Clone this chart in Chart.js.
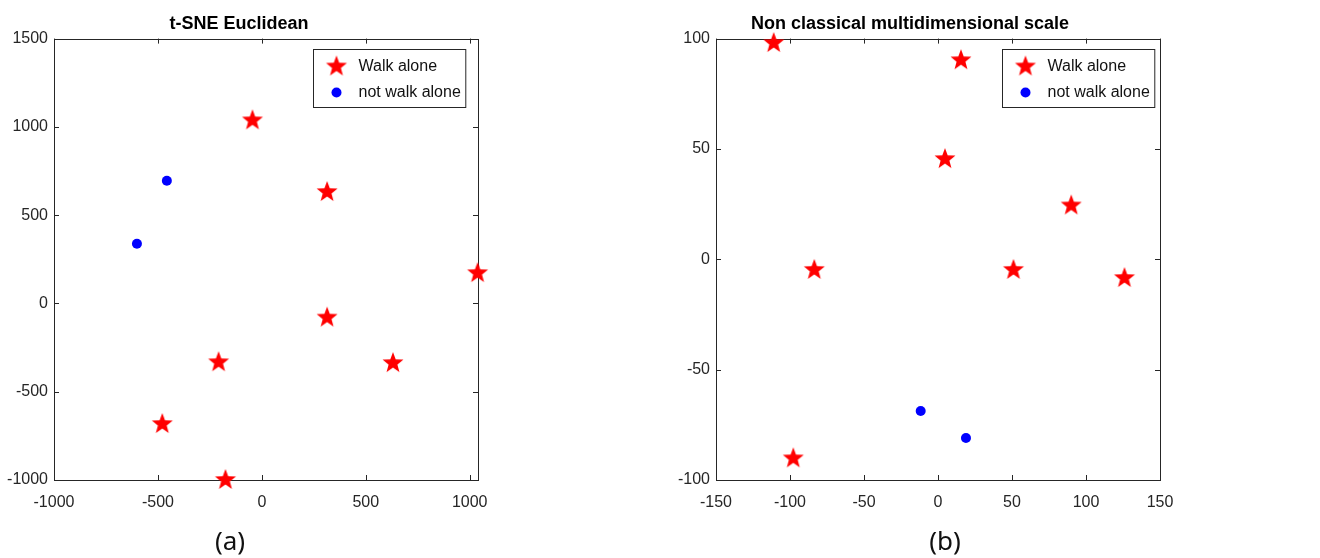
<!DOCTYPE html>
<html>
<head>
<meta charset="utf-8">
<script src="https://cdn.jsdelivr.net/npm/chart.js@4.4.1/dist/chart.umd.min.js"></script>
<style>
  body { margin: 0; background: #fff; width: 1320px; height: 558px; position: relative; overflow: hidden; }
  .box { position: absolute; top: 0; height: 558px; }
  .cap { position: absolute; top: 522px; font: 26px "Noto Sans", "Open Sans", sans-serif; color: #111; transform: translateX(-50%); }
</style>
</head>
<body>
<div class="box" style="left:0;width:520px"><canvas id="chartA"></canvas></div>
<div class="box" style="left:660px;width:660px"><canvas id="chartB"></canvas></div>
<div class="cap" style="left:230px">(a)</div>
<div class="cap" style="left:945px">(b)</div>
<script>
// (a) t-SNE Euclidean
let walkXa = [-45, 314, 1038, 314, -208, 631, -479, -175];
let walkYa = [1037, 631, 172, -80, -333, -338, -683, -1000];
let notXa = [-457, -601];
let notYa = [695, 338];
let xTicksA = [-1000, -500, 0, 500, 1000];
let yTicksA = [-1000, -500, 0, 500, 1000, 1500];

// (b) Non classical multidimensional scale
let walkXb = [-111, 15.5, 4.7, 90, -83.6, 51, 126, -97.8];
let walkYb = [98, 90.2, 45.4, 24.4, -4.8, -4.8, -8.5, -90.2];
let notXb = [-11.7, 18.9];
let notYb = [-68.7, -81];
let xTicksB = [-150, -100, -50, 0, 50, 100, 150];
let yTicksB = [-100, -50, 0, 50, 100];

let legendLabels = ['Walk alone', 'not walk alone'];
let tickFont = { family: '"Liberation Sans", Arial, sans-serif', size: 16 };
let axisColor = '#262626';

// filled pentagram marker like matlab
function makeStar(r, color) {
  let c = document.createElement('canvas');
  c.width = r * 2 + 2; c.height = r * 2 + 2;
  let g = c.getContext('2d');
  g.fillStyle = color;
  g.beginPath();
  for (let i = 0; i < 10; i++) {
    let rad = i % 2 === 0 ? r : r * 0.42;
    let a = -Math.PI / 2 + i * Math.PI / 5;
    let px = r + 1 + rad * Math.cos(a), py = r + 1 + rad * Math.sin(a);
    if (i === 0) g.moveTo(px, py); else g.lineTo(px, py);
  }
  g.closePath();
  g.fill();
  return c;
}
let star = makeStar(11, '#ff0000');

function toPoints(xs, ys) {
  return xs.map((x, i) => ({ x: x, y: ys[i] }));
}

// box around the plot + ticks pointing inward on all sides, legend in the corner
let boxPlugin = {
  id: 'matlabBox',
  beforeDatasetsDraw(chart) {
    let ctx = chart.ctx, a = chart.chartArea;
    let sx = chart.scales.x, sy = chart.scales.y;
    ctx.save();
    ctx.strokeStyle = axisColor;
    ctx.lineWidth = 1;
    ctx.strokeRect(Math.round(a.left) + 0.5, Math.round(a.top) + 0.5, Math.round(a.right - a.left), Math.round(a.bottom - a.top));
    ctx.beginPath();
    sx.ticks.forEach(t => {
      let p = Math.round(sx.getPixelForValue(t.value)) + 0.5;
      ctx.moveTo(p, a.bottom); ctx.lineTo(p, a.bottom - 5);
      ctx.moveTo(p, a.top); ctx.lineTo(p, a.top + 5);
    });
    sy.ticks.forEach(t => {
      let p = Math.round(sy.getPixelForValue(t.value)) + 0.5;
      ctx.moveTo(a.left, p); ctx.lineTo(a.left + 5, p);
      ctx.moveTo(a.right, p); ctx.lineTo(a.right - 5, p);
    });
    ctx.stroke();
    ctx.restore();
  },
  afterDraw(chart, args, opts) {
    let ctx = chart.ctx, a = chart.chartArea;
    ctx.save();
    ctx.font = '16px ' + tickFont.family;
    let tw = Math.max(...legendLabels.map(l => ctx.measureText(l).width));
    let w = 44 + tw + 6, h = 58;
    let x0 = Math.round(a.right - opts.right - w) + 0.5, y0 = Math.round(a.top + 10) + 0.5;
    ctx.fillStyle = '#fff';
    ctx.fillRect(x0, y0, w, h);
    ctx.strokeStyle = axisColor;
    ctx.lineWidth = 1;
    ctx.strokeRect(x0, y0, w, h);
    ctx.drawImage(star, x0 + 23 - star.width / 2, y0 + 17 - star.height / 2);
    ctx.fillStyle = '#0000ff';
    ctx.beginPath();
    ctx.arc(x0 + 23, y0 + 43, 5, 0, Math.PI * 2);
    ctx.fill();
    ctx.fillStyle = '#111';
    ctx.textBaseline = 'middle';
    ctx.fillText(legendLabels[0], x0 + 45, y0 + 17);
    ctx.fillText(legendLabels[1], x0 + 45, y0 + 43);
    ctx.restore();
  }
};

function drawChart(id, title, walk, notWalk, xr, yr, xTicks, yTicks, yWidth, padRight, legRight) {
  return new Chart(document.getElementById(id), {
    type: 'scatter',
    data: {
      datasets: [{
        label: legendLabels[0],
        data: walk,
        pointStyle: star,
        pointRadius: 11,
        clip: false
      }, {
        label: legendLabels[1],
        data: notWalk,
        pointStyle: 'circle',
        pointRadius: 5,
        backgroundColor: '#0000ff',
        borderColor: '#0000ff',
        borderWidth: 0,
        clip: false
      }]
    },
    options: {
      responsive: true,
      maintainAspectRatio: false,
      animation: false,
      layout: { padding: { left: 0, right: padRight, top: 0, bottom: 48 } },
      plugins: {
        legend: { display: false },
        tooltip: { enabled: false },
        title: {
          display: true,
          text: title,
          color: '#000',
          font: { family: '"Liberation Sans", Arial, sans-serif', size: 18, weight: 'bold' },
          padding: { top: 13, bottom: 4 }
        },
        matlabBox: { right: legRight }
      },
      scales: {
        x: {
          type: 'linear',
          min: xr[0], max: xr[1],
          grid: { display: false, drawTicks: false },
          border: { display: false },
          ticks: { color: '#262626', font: tickFont, padding: 13, maxRotation: 0, callback: v => String(v) },
          afterBuildTicks(s) { s.ticks = xTicks.map(v => ({ value: v })); },
          afterFit(s) { s.height = 30; }
        },
        y: {
          type: 'linear',
          min: yr[0], max: yr[1],
          grid: { display: false, drawTicks: false },
          border: { display: false },
          ticks: { color: '#262626', font: tickFont, padding: 6, callback: v => String(v) },
          afterBuildTicks(s) { s.ticks = yTicks.map(v => ({ value: v })); },
          afterFit(s) { s.width = yWidth; }
        }
      }
    },
    plugins: [boxPlugin]
  });
}

drawChart('chartA', 't-SNE Euclidean', toPoints(walkXa, walkYa), toPoints(notXa, notYa),
  [-1000, 1040], [-1000, 1500], xTicksA, yTicksA, 54, 42, 13);
drawChart('chartB', 'Non classical multidimensional scale', toPoints(walkXb, walkYb), toPoints(notXb, notYb),
  [-150, 150], [-100, 100], xTicksB, yTicksB, 56, 160, 6);
</script>
</body>
</html>
